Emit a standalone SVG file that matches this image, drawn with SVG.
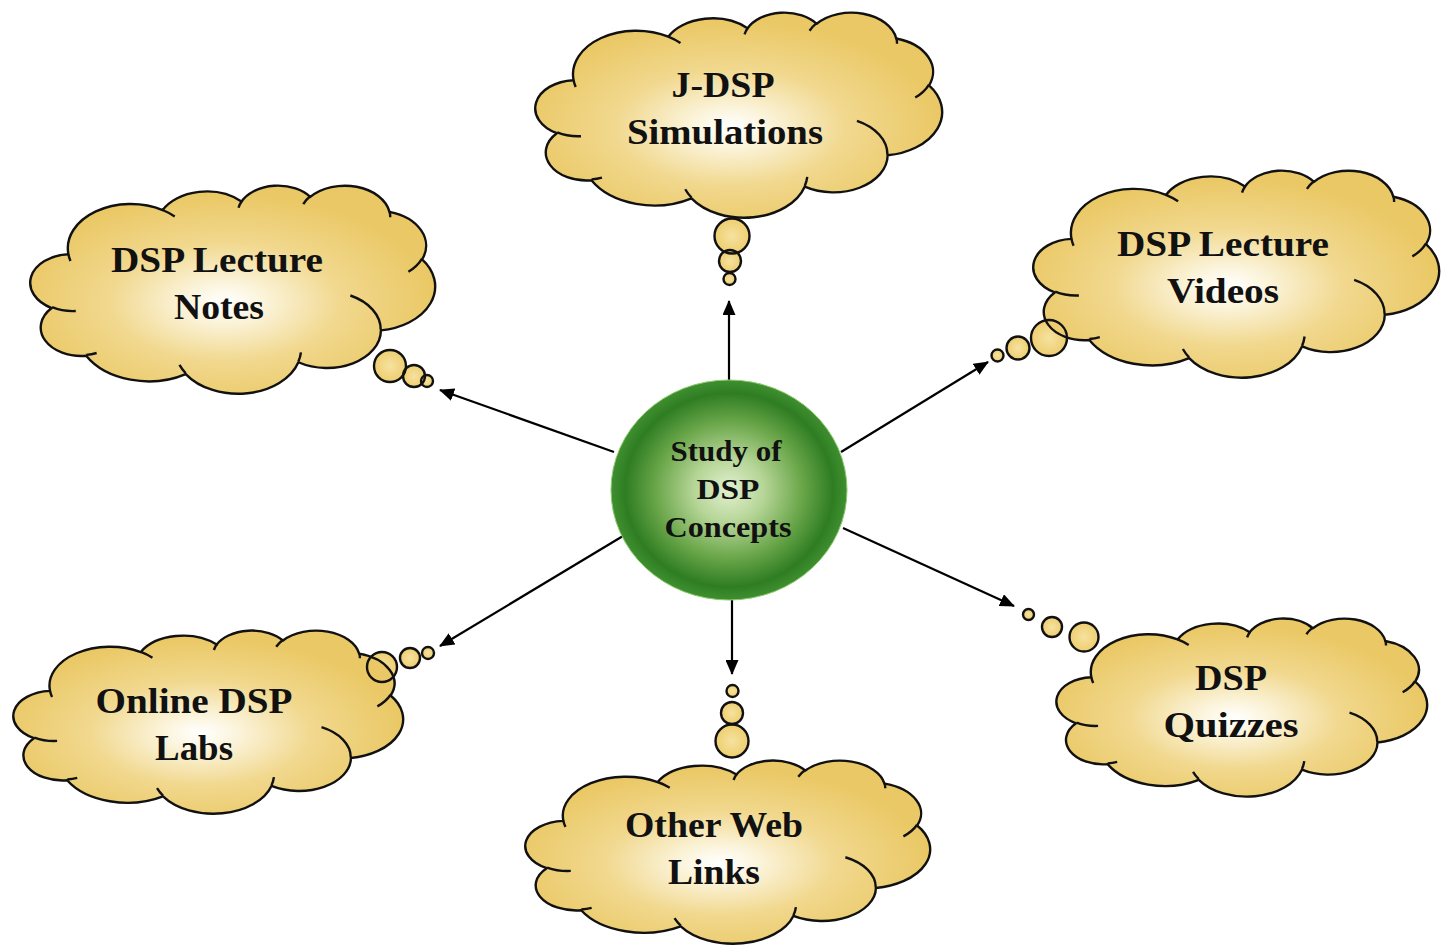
<svg xmlns="http://www.w3.org/2000/svg" xmlns:xlink="http://www.w3.org/1999/xlink" width="1441" height="952" viewBox="0 0 1441 952">
  <defs>
    <!-- cloud outline in a 100x100 frame: eleven elliptical lobes -->
    <path id="cloudShape" vector-effect="non-scaling-stroke" d="M 9.03 33.26 A 15.63 21.27 0 0 1 32.42 12.04 A 12.34 16.82 0 0 1 51.98 7.94 A 10.10 13.76 0 0 1 69.06 5.74 A 11.24 15.27 0 0 1 88.70 12.91 A 12.34 16.84 0 0 1 96.80 35.79 A 15.68 21.34 0 0 1 86.58 69.91 A 13.39 18.21 0 0 1 66.10 85.22 A 15.63 21.33 0 0 1 38.15 90.89 A 17.87 24.41 0 0 1 13.44 82.11 A 10.09 13.70 0 0 1 4.89 59.14 A 10.06 13.76 0 0 1 9.03 33.26 Z"/>
    <!-- hidden parts of the lobes, drawn as inner creases -->
    <path id="cloudFolds" vector-effect="non-scaling-stroke" d="M 10.86 60.60 A 10.06 13.76 0 0 1 5.00 58.75 M 16.04 80.78 A 10.09 13.70 0 0 1 13.47 81.67 M 38.14 90.49 A 15.63 21.33 0 0 1 36.60 86.46 M 66.73 80.44 A 15.63 21.33 0 0 1 66.11 84.86 M 79.00 53.13 A 13.39 18.21 0 0 1 86.53 69.65 M 96.75 35.54 A 12.34 16.84 0 0 1 93.40 41.74 M 88.71 12.56 A 11.24 15.27 0 0 1 88.89 15.49 M 67.31 9.15 A 11.24 15.27 0 0 1 69.03 5.42 M 51.25 10.93 A 10.10 13.76 0 0 1 52.08 7.71 M 32.41 12.02 A 15.63 21.27 0 0 1 35.42 15.14 M 9.55 36.55 A 15.63 21.27 0 0 1 9.03 33.27"/>

    <radialGradient id="cloudFill" cx="0.48" cy="0.56" r="0.52">
      <stop offset="0" stop-color="#ffffff"/>
      <stop offset="0.2" stop-color="#fbf3d8"/>
      <stop offset="0.55" stop-color="#f1d88e"/>
      <stop offset="1" stop-color="#eac865"/>
    </radialGradient>
    <radialGradient id="bubbleFill" cx="0.5" cy="0.5" r="0.6">
      <stop offset="0" stop-color="#f6e2a0"/>
      <stop offset="1" stop-color="#ecca66"/>
    </radialGradient>
    <radialGradient id="hubFill" cx="0.5" cy="0.5" r="0.5">
      <stop offset="0" stop-color="#e2f0d0"/>
      <stop offset="0.3" stop-color="#b5d596"/>
      <stop offset="0.62" stop-color="#6aa64a"/>
      <stop offset="0.88" stop-color="#2f7d22"/>
      <stop offset="1" stop-color="#3f8f30"/>
    </radialGradient>

    <marker id="arrow" viewBox="0 0 15 13" refX="14" refY="6.5" markerWidth="15" markerHeight="13" markerUnits="userSpaceOnUse" orient="auto">
      <path d="M 0 0 L 15 6.5 L 0 13 Z" fill="#000"/>
    </marker>

    <style>
      .cloud-body { fill: url(#cloudFill); stroke: none; }
      .cloud-line { fill: none; stroke: #111; stroke-width: 2.4; stroke-linejoin: round; }
      .bubble-body { fill: url(#bubbleFill); stroke: none; }
      .bubble-line { fill: none; stroke: #111; stroke-width: 2.4; }
      .label { font-family: "Liberation Serif", "Times New Roman", serif; font-weight: bold; font-size: 36px; fill: #111; text-anchor: middle; }
      .hub-label { font-family: "Liberation Serif", "Times New Roman", serif; font-weight: bold; font-size: 29px; fill: #111; text-anchor: middle; }
      .link { stroke: #000; stroke-width: 2.2; fill: none; marker-end: url(#arrow); }
    </style>
  </defs>

  <rect width="1441" height="952" fill="#ffffff"/>

  <!-- spokes from the hub to each resource -->
  <g id="connectors">
    <line class="link" x1="729" y1="380" x2="729" y2="301"/>
    <line class="link" x1="614" y1="452" x2="440" y2="390"/>
    <line class="link" x1="841" y1="452" x2="988" y2="362"/>
    <line class="link" x1="843" y1="528" x2="1014" y2="606"/>
    <line class="link" x1="623" y1="536" x2="440" y2="646"/>
    <line class="link" x1="732" y1="600" x2="732" y2="674"/>
  </g>

  <!-- J-DSP Simulations -->
  <g id="node-jdsp">
    <circle class="bubble-body" cx="732" cy="236" r="17.5"/>
    <circle class="bubble-body" cx="730" cy="261" r="11"/>
    <circle class="bubble-body" cx="729.5" cy="279" r="6"/>
    <g transform="translate(537 12) scale(4.05 2.05)">
      <use xlink:href="#cloudShape" class="cloud-body"/>
      <use xlink:href="#cloudShape" class="cloud-line"/>
      <use xlink:href="#cloudFolds" class="cloud-line"/>
    </g>
    <circle class="bubble-line" cx="732" cy="236" r="17.5"/>
    <circle class="bubble-line" cx="730" cy="261" r="11"/>
    <circle class="bubble-line" cx="729.5" cy="279" r="6"/>
    <text class="label" x="723" y="97" textLength="103" lengthAdjust="spacingAndGlyphs">J-DSP</text>
    <text class="label" x="725" y="144" textLength="196" lengthAdjust="spacingAndGlyphs">Simulations</text>
  </g>

  <!-- DSP Lecture Notes -->
  <g id="node-notes">
    <circle class="bubble-body" cx="390" cy="366" r="16"/>
    <circle class="bubble-body" cx="414" cy="376" r="11"/>
    <circle class="bubble-body" cx="427" cy="381" r="6"/>
    <g transform="translate(32 185) scale(4.03 2.08)">
      <use xlink:href="#cloudShape" class="cloud-body"/>
      <use xlink:href="#cloudShape" class="cloud-line"/>
      <use xlink:href="#cloudFolds" class="cloud-line"/>
    </g>
    <circle class="bubble-line" cx="390" cy="366" r="16"/>
    <circle class="bubble-line" cx="414" cy="376" r="11"/>
    <circle class="bubble-line" cx="427" cy="381" r="6"/>
    <text class="label" x="217" y="272" textLength="212" lengthAdjust="spacingAndGlyphs">DSP Lecture</text>
    <text class="label" x="219" y="319" textLength="90" lengthAdjust="spacingAndGlyphs">Notes</text>
  </g>

  <!-- DSP Lecture Videos -->
  <g id="node-videos">
    <circle class="bubble-body" cx="1049" cy="338" r="18"/>
    <circle class="bubble-body" cx="1018" cy="348" r="11.5"/>
    <circle class="bubble-body" cx="997.5" cy="355.5" r="6"/>
    <g transform="translate(1035 170) scale(4.04 2.07)">
      <use xlink:href="#cloudShape" class="cloud-body"/>
      <use xlink:href="#cloudShape" class="cloud-line"/>
      <use xlink:href="#cloudFolds" class="cloud-line"/>
    </g>
    <circle class="bubble-line" cx="1049" cy="338" r="18"/>
    <circle class="bubble-line" cx="1018" cy="348" r="11.5"/>
    <circle class="bubble-line" cx="997.5" cy="355.5" r="6"/>
    <text class="label" x="1223" y="256" textLength="212" lengthAdjust="spacingAndGlyphs">DSP Lecture</text>
    <text class="label" x="1223" y="303" textLength="112" lengthAdjust="spacingAndGlyphs">Videos</text>
  </g>

  <!-- DSP Quizzes -->
  <g id="node-quizzes">
    <circle class="bubble-body" cx="1084" cy="637" r="14.5"/>
    <circle class="bubble-body" cx="1052" cy="627" r="10"/>
    <circle class="bubble-body" cx="1028.5" cy="614.5" r="5.5"/>
    <g transform="translate(1058 618) scale(3.69 1.78)">
      <use xlink:href="#cloudShape" class="cloud-body"/>
      <use xlink:href="#cloudShape" class="cloud-line"/>
      <use xlink:href="#cloudFolds" class="cloud-line"/>
    </g>
    <circle class="bubble-line" cx="1084" cy="637" r="14.5"/>
    <circle class="bubble-line" cx="1052" cy="627" r="10"/>
    <circle class="bubble-line" cx="1028.5" cy="614.5" r="5.5"/>
    <text class="label" x="1231" y="690" textLength="72" lengthAdjust="spacingAndGlyphs">DSP</text>
    <text class="label" x="1231" y="737" textLength="135" lengthAdjust="spacingAndGlyphs">Quizzes</text>
  </g>

  <!-- Online DSP Labs -->
  <g id="node-labs">
    <circle class="bubble-body" cx="382" cy="667" r="15"/>
    <circle class="bubble-body" cx="410" cy="658" r="10"/>
    <circle class="bubble-body" cx="428" cy="653" r="6"/>
    <g transform="translate(15 630) scale(3.88 1.83)">
      <use xlink:href="#cloudShape" class="cloud-body"/>
      <use xlink:href="#cloudShape" class="cloud-line"/>
      <use xlink:href="#cloudFolds" class="cloud-line"/>
    </g>
    <circle class="bubble-line" cx="382" cy="667" r="15"/>
    <circle class="bubble-line" cx="410" cy="658" r="10"/>
    <circle class="bubble-line" cx="428" cy="653" r="6"/>
    <text class="label" x="194" y="713" textLength="197" lengthAdjust="spacingAndGlyphs">Online DSP</text>
    <text class="label" x="194" y="760" textLength="78" lengthAdjust="spacingAndGlyphs">Labs</text>
  </g>

  <!-- Other Web Links -->
  <g id="node-links">
    <circle class="bubble-body" cx="732" cy="741" r="16.5"/>
    <circle class="bubble-body" cx="732" cy="713" r="11"/>
    <circle class="bubble-body" cx="732.5" cy="691" r="6"/>
    <g transform="translate(527 760) scale(4.03 1.83)">
      <use xlink:href="#cloudShape" class="cloud-body"/>
      <use xlink:href="#cloudShape" class="cloud-line"/>
      <use xlink:href="#cloudFolds" class="cloud-line"/>
    </g>
    <circle class="bubble-line" cx="732" cy="741" r="16.5"/>
    <circle class="bubble-line" cx="732" cy="713" r="11"/>
    <circle class="bubble-line" cx="732.5" cy="691" r="6"/>
    <text class="label" x="714" y="837" textLength="178" lengthAdjust="spacingAndGlyphs">Other Web</text>
    <text class="label" x="714" y="884" textLength="92" lengthAdjust="spacingAndGlyphs">Links</text>
  </g>

  <!-- central hub -->
  <g id="node-hub">
    <ellipse cx="729" cy="490" rx="118" ry="110" fill="url(#hubFill)" stroke="#8ccc6e" stroke-width="1"/>
    <text class="hub-label" x="726" y="461" textLength="111" lengthAdjust="spacingAndGlyphs">Study of</text>
    <text class="hub-label" x="728" y="499" textLength="63" lengthAdjust="spacingAndGlyphs">DSP</text>
    <text class="hub-label" x="728" y="537" textLength="127" lengthAdjust="spacingAndGlyphs">Concepts</text>
  </g>
</svg>
